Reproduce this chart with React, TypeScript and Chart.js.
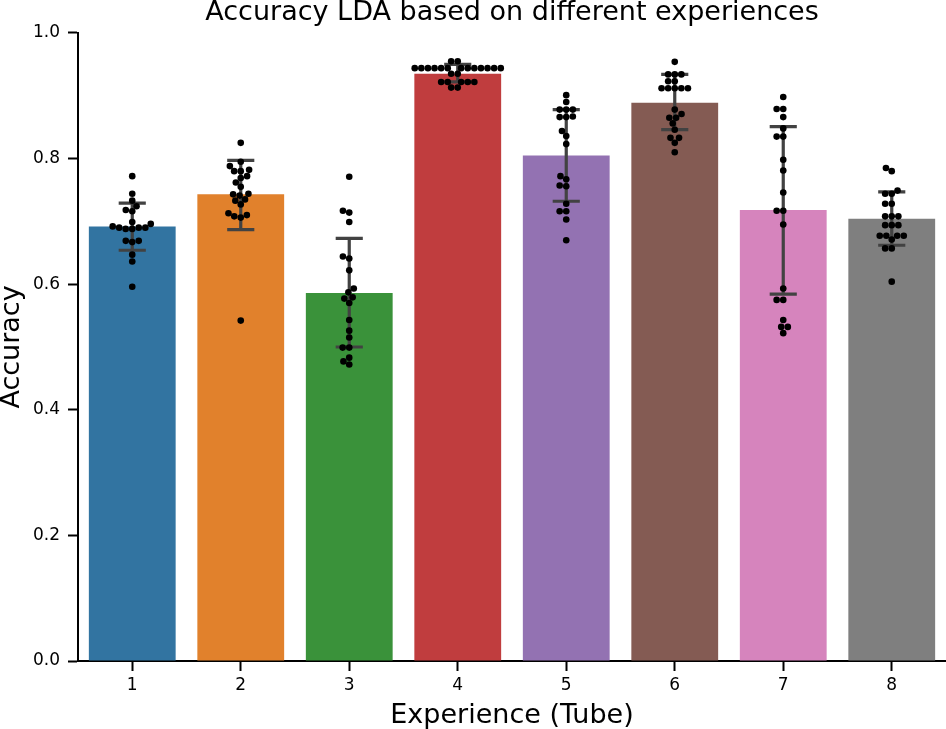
import React, { useEffect, useRef } from 'react';
import { Chart, registerables } from 'chart.js';

Chart.register(...registerables);

const TITLE = 'Accuracy LDA based on different experiences';
const X_LABEL = 'Experience (Tube)';
const Y_LABEL = 'Accuracy';

const categories = ['1', '2', '3', '4', '5', '6', '7', '8'];
const barMeans = [0.692, 0.743, 0.586, 0.935, 0.805, 0.889, 0.718, 0.704];
const errLow = [0.654, 0.687, 0.5, 0.922, 0.732, 0.846, 0.584, 0.662];
const errHigh = [0.729, 0.797, 0.673, 0.95, 0.878, 0.934, 0.851, 0.747];
const yTicks = [0, 0.2, 0.4, 0.6, 0.8, 1.0];

const barColors = ['#3274a1', '#e1812c', '#3a923a', '#c03d3e', '#9372b2', '#845b53', '#d684bd', '#7f7f7f'];

const exp1 = [0.772, 0.744, 0.733, 0.724, 0.718, 0.716, 0.699, 0.696, 0.692, 0.69, 0.69, 0.69, 0.688, 0.688, 0.669, 0.669, 0.667, 0.647, 0.636, 0.596];
const exp2 = [0.825, 0.795, 0.788, 0.78, 0.78, 0.782, 0.772, 0.769, 0.762, 0.755, 0.743, 0.741, 0.744, 0.733, 0.735, 0.727, 0.713, 0.708, 0.706, 0.71, 0.542];
const exp3 = [0.771, 0.717, 0.714, 0.699, 0.644, 0.641, 0.622, 0.593, 0.587, 0.579, 0.577, 0.57, 0.543, 0.526, 0.515, 0.499, 0.499, 0.483, 0.477, 0.472];
const exp4 = [0.955, 0.955, 0.944, 0.944, 0.944, 0.944, 0.944, 0.944, 0.944, 0.944, 0.944, 0.944, 0.944, 0.944, 0.944, 0.935, 0.935, 0.922, 0.922, 0.922, 0.922, 0.922, 0.913, 0.913];
const exp5 = [0.901, 0.89, 0.878, 0.878, 0.878, 0.866, 0.866, 0.867, 0.844, 0.836, 0.823, 0.772, 0.767, 0.757, 0.756, 0.728, 0.716, 0.716, 0.703, 0.67];
const exp6 = [0.954, 0.934, 0.934, 0.934, 0.923, 0.923, 0.912, 0.912, 0.912, 0.912, 0.912, 0.878, 0.871, 0.865, 0.865, 0.856, 0.846, 0.833, 0.833, 0.825, 0.81];
const exp7 = [0.898, 0.879, 0.879, 0.866, 0.848, 0.835, 0.835, 0.798, 0.781, 0.746, 0.717, 0.717, 0.695, 0.593, 0.575, 0.575, 0.543, 0.532, 0.532, 0.522];
const exp8 = [0.785, 0.78, 0.749, 0.744, 0.744, 0.728, 0.728, 0.708, 0.708, 0.708, 0.694, 0.694, 0.694, 0.677, 0.677, 0.677, 0.677, 0.671, 0.657, 0.657, 0.604];
const groups = [exp1, exp2, exp3, exp4, exp5, exp6, exp7, exp8];

const FONT = 'DejaVu Sans';
const DOT_DIAMETER = 6.6;
const CAP_WIDTH = 0.25;

// Beeswarm layout (seaborn-like): returns horizontal pixel offsets
function beeswarm(pys: number[], d: number): number[] {
  const order = pys.map((_, i) => i).sort((a, b) => pys[b] - pys[a]);
  const placed: { x: number; y: number }[] = [];
  const out = new Array(pys.length).fill(0);
  for (const idx of order) {
    const y = pys[idx];
    const neigh = placed.filter((p) => Math.abs(p.y - y) < d);
    const cands: number[] = [0];
    for (const n of neigh) {
      const dx = Math.sqrt(d * d - (n.y - y) * (n.y - y));
      cands.push(n.x - dx, n.x + dx);
    }
    const sorted = cands.map((c, i) => ({ c, i })).sort((a, b) => Math.abs(a.c) - Math.abs(b.c) || a.i - b.i);
    let chosen = 0;
    for (const { c } of sorted) {
      const ok = neigh.every((n) => Math.hypot(n.x - c, n.y - y) >= d - 1e-6);
      if (ok) { chosen = c; break; }
    }
    placed.push({ x: chosen, y });
    out[idx] = chosen;
  }
  return out;
}

const errorBarPlugin = {
  id: 'errorBars',
  afterDatasetDraw(chart: any, args: any) {
    if (args.index !== 0) return;
    const { ctx } = chart;
    const xs = chart.scales.x;
    const ys = chart.scales.y;
    ctx.save();
    ctx.strokeStyle = '#424242';
    ctx.lineWidth = 3.2;
    ctx.lineCap = 'butt';
    categories.forEach((_, i) => {
      const px = xs.getPixelForValue(i + 1);
      const half = xs.getPixelForValue(i + 1 + CAP_WIDTH / 2) - px;
      const top = ys.getPixelForValue(errHigh[i]);
      const bot = ys.getPixelForValue(errLow[i]);
      ctx.beginPath();
      ctx.moveTo(px, top);
      ctx.lineTo(px, bot);
      ctx.moveTo(px - half, top);
      ctx.lineTo(px + half, top);
      ctx.moveTo(px - half, bot);
      ctx.lineTo(px + half, bot);
      ctx.stroke();
    });
    ctx.restore();
  },
};

export default function App() {
  const ref = useRef<HTMLCanvasElement | null>(null);
  useEffect(() => {
    if (!ref.current) return;
    const chart = new Chart(ref.current, {
      type: 'bar',
      data: {
        datasets: [
          {
            type: 'bar',
            label: 'mean',
            data: categories.map((_, i) => ({ x: i + 1, y: barMeans[i] })),
            backgroundColor: barColors,
            borderWidth: 0,
            barPercentage: 0.8,
            categoryPercentage: 1,
            order: 2,
          } as any,
          {
            type: 'scatter',
            label: 'folds',
            data: [],
            backgroundColor: '#000000',
            borderWidth: 0,
            pointRadius: DOT_DIAMETER / 2,
            order: 1,
          } as any,
        ],
      },
      options: {
        responsive: false,
        animation: false,
        layout: { autoPadding: false, padding: 0 },
        plugins: {
          legend: { display: false },
          tooltip: { enabled: false },
          title: {
            display: true,
            fullSize: false,
            text: TITLE,
            color: '#000',
            font: { family: FONT, size: 27, weight: 'normal', lineHeight: 0.98 },
            padding: { top: 0, bottom: 6.5 },
          },
        },
        scales: {
          x: {
            type: 'linear',
            min: 0.5,
            max: 8.5,
            offset: false,
            afterBuildTicks: (s: any) => {
              s.ticks = categories.map((_, i) => ({ value: i + 1 }));
            },
            afterFit: (s: any) => {
              s.height = 68;
            },
            ticks: {
              autoSkip: false,
              maxRotation: 0,
              padding: 4,
              color: '#000',
              font: { family: FONT, size: 17 },
              callback: (v: any) => categories[Math.round(Number(v)) - 1] ?? '',
            },
            grid: { display: true, drawOnChartArea: false, drawTicks: true, tickLength: 10, tickWidth: 2, color: '#000', offset: false },
            border: { display: true, color: '#000', width: 2 },
            title: {
              display: true,
              text: X_LABEL,
              color: '#000',
              font: { family: FONT, size: 27, lineHeight: 1.0 },
              padding: { top: 0, bottom: 0 },
            },
          } as any,
          y: {
            type: 'linear',
            min: 0,
            max: 1,
            afterBuildTicks: (s: any) => {
              s.ticks = yTicks.map((v) => ({ value: v }));
            },
            afterFit: (s: any) => {
              s.width = 78;
            },
            ticks: {
              padding: 8,
              color: '#000',
              font: { family: FONT, size: 17 },
              callback: (v: any) => Number(v).toFixed(1),
            },
            grid: { display: true, drawOnChartArea: false, drawTicks: true, tickLength: 10, tickWidth: 2, color: '#000' },
            border: { display: true, color: '#000', width: 2 },
            title: {
              display: true,
              text: Y_LABEL,
              color: '#000',
              font: { family: FONT, size: 27, lineHeight: 0.9 },
              padding: 0,
            },
          } as any,
        },
      },
      plugins: [errorBarPlugin],
    });

    const xs: any = chart.scales.x;
    const ys: any = chart.scales.y;
    const pxPerUnit = xs.getPixelForValue(2) - xs.getPixelForValue(1);
    const pts: { x: number; y: number }[] = [];
    groups.forEach((vals, gi) => {
      const offs = beeswarm(vals.map((v) => ys.getPixelForValue(v)), DOT_DIAMETER);
      vals.forEach((v, k) => pts.push({ x: gi + 1 + offs[k] / pxPerUnit, y: v }));
    });
    (chart.data.datasets[1] as any).data = pts;
    chart.update();

    return () => chart.destroy();
  }, []);

  return (
    <div style={{ position: 'absolute', left: 0, top: 0, width: 946, height: 729, background: '#fff' }}>
      <canvas ref={ref} width={946} height={729} style={{ display: 'block' }} />
    </div>
  );
}
